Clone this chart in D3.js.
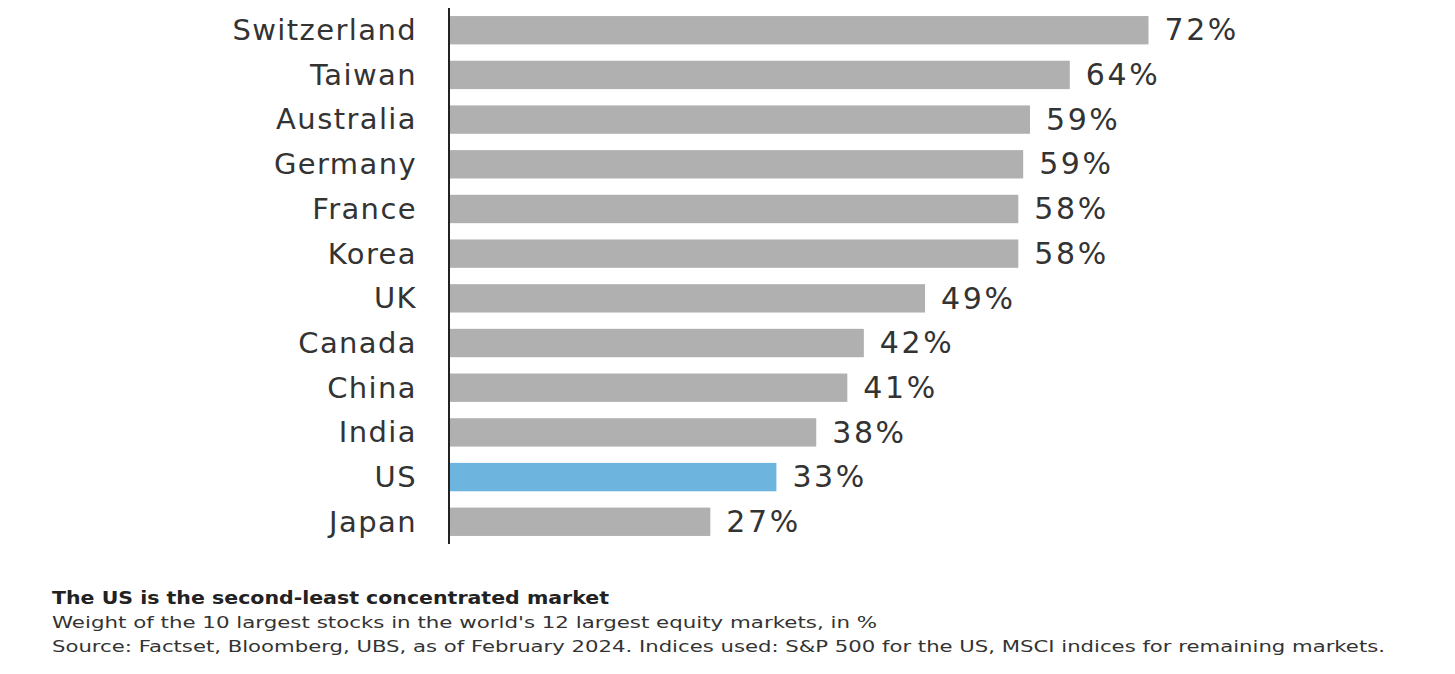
<!DOCTYPE html>
<html><head><meta charset="utf-8">
<script src="https://d3js.org/d3.v7.min.js"></script>
<style>
body{margin:0;background:#fff;}
svg{display:block;}
</style></head>
<body>
<script>
const countries = ["Switzerland","Taiwan","Australia","Germany","France","Korea","UK","Canada","China","India","US","Japan"];
const values = [72.0,63.9,59.8,59.1,58.6,58.6,49.0,42.7,41.0,37.8,33.7,26.9];
const valueLabels = ["72%","64%","59%","59%","58%","58%","49%","42%","41%","38%","33%","27%"];
const highlight = "US";
const title = "The US is the second-least concentrated market";
const subtitle = "Weight of the 10 largest stocks in the world's 12 largest equity markets, in %";
const source = "Source: Factset, Bloomberg, UBS, as of February 2024. Indices used: S&P 500 for the US, MSCI indices for remaining markets.";

const W = 1455, H = 674;
const svg = d3.select("body").append("svg").attr("width", W).attr("height", H);

const x0 = 449;
const x = d3.scaleLinear().domain([0, 72]).range([x0, 1148.5]);
const y = d3.scaleBand().domain(countries).range([8, 544]).paddingInner(0.365).paddingOuter(0.18);

const data = countries.map((c, i) => ({c, v: values[i], label: valueLabels[i]}));

svg.append("g").selectAll("rect").data(data).join("rect")
  .attr("x", x(0) + 1)
  .attr("y", d => y(d.c))
  .attr("width", d => x(d.v) - x(0) - 1)
  .attr("height", y.bandwidth())
  .attr("fill", d => d.c === highlight ? "#6db5df" : "#b0b0b0");

const yAxis = d3.axisLeft(y).tickSize(0).tickPadding(32);
const ag = svg.append("g").attr("transform", `translate(${x0},0)`).call(yAxis);
ag.select(".domain").attr("stroke", "#222").attr("stroke-width", 2).attr("d", "M0,8V544");
ag.selectAll("text")
  .attr("font-family", "DejaVu Sans, Verdana, sans-serif")
  .attr("font-size", 29)
  .attr("fill", "#333")
  .attr("letter-spacing", 1.4)
  .attr("dy", "0.34em");

svg.append("g").selectAll("text").data(data).join("text")
  .attr("x", d => x(d.v) + 16)
  .attr("y", d => y(d.c) + y.bandwidth() / 2)
  .attr("dy", "0.34em")
  .attr("font-family", "DejaVu Sans, Verdana, sans-serif")
  .attr("font-size", 30)
  .attr("letter-spacing", 2.6)
  .attr("fill", "#333")
  .text(d => d.label);

const foot = svg.append("g").attr("font-family", "DejaVu Sans, Verdana, sans-serif").attr("fill", "#222");
foot.append("text").attr("x", 52).attr("y", 604).attr("font-size", 17).attr("font-weight", "bold")
  .attr("textLength", 557).attr("lengthAdjust", "spacingAndGlyphs").text(title);
foot.append("text").attr("x", 52).attr("y", 628).attr("font-size", 16.5).attr("fill", "#333")
  .attr("textLength", 825).attr("lengthAdjust", "spacingAndGlyphs").text(subtitle);
foot.append("text").attr("x", 52).attr("y", 652).attr("font-size", 16.5).attr("fill", "#333")
  .attr("textLength", 1333).attr("lengthAdjust", "spacingAndGlyphs").text(source);
</script>
</body></html>
